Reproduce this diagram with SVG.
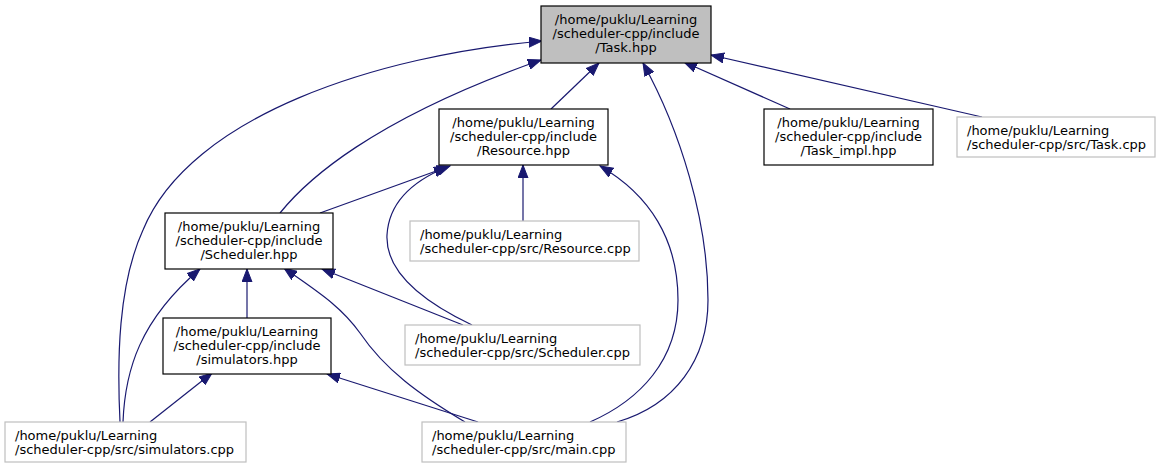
<svg xmlns="http://www.w3.org/2000/svg" width="1163" height="468" viewBox="0 0 1163 468">
<style>
  .hpp rect { fill: #ffffff; stroke: #000000; stroke-width: 1.2; }
  .main rect { fill: #bfbfbf; stroke: #000000; stroke-width: 1.2; }
  .cpp rect { fill: #ffffff; stroke: #bfbfbf; stroke-width: 1.2; }
  text { font-family: "DejaVu Sans", sans-serif; font-size: 13px; fill: #000000; }
  .c { text-anchor: middle; }
  .l { text-anchor: start; }
  #edges path { fill: none; stroke: #191970; stroke-width: 1.2; marker-end: url(#arr); }
</style>
<defs>
  <marker id="arr" markerUnits="userSpaceOnUse" markerWidth="14" markerHeight="11" refX="13" refY="5" orient="auto" viewBox="0 0 14 10">
    <path d="M0,0 L13,5 L0,10 z" fill="#191970" stroke="#191970" stroke-width="1"/>
  </marker>
</defs>
<rect width="1163" height="468" fill="#ffffff"/>

<g id="edges">
  <path d="M551,109 L599,63"/>
  <path d="M280,213 C305,182 370,120 541,60"/>
  <path d="M120,422 C117,360 118,285 143,230 C190,115 380,55 542,41"/>
  <path d="M617,422 C675,405 708,360 708,300 C708,220 680,130 643,63"/>
  <path d="M590,422 C640,400 678,360 678,300 C678,240 650,195 600,166"/>
  <path d="M790,109 L684,62"/>
  <path d="M982,117 L711,55"/>
  <path d="M320,213 L450,166"/>
  <path d="M523,221 L523,165"/>
  <path d="M472,325 C430,305 385,275 387,235 C389,200 415,180 447,167"/>
  <path d="M247,318 L247,269"/>
  <path d="M123,422 C125,370 140,320 200,269"/>
  <path d="M463,325 L322,269"/>
  <path d="M465,422 C420,395 385,370 360,333 C340,305 315,290 284,268"/>
  <path d="M150,422 L212,373"/>
  <path d="M478,422 L327,374"/>
</g>

<g id="task_hpp" class="main">
  <rect x="541" y="6" width="170" height="57"/>
  <text class="c" x="626" y="23.5">/home/puklu/Learning</text>
  <text class="c" x="626" y="37.5">/scheduler-cpp/include</text>
  <text class="c" x="626" y="51.5">/Task.hpp</text>
</g>

<g id="resource_hpp" class="hpp">
  <rect x="439" y="109" width="169" height="56"/>
  <text class="c" x="523.5" y="126.5">/home/puklu/Learning</text>
  <text class="c" x="523.5" y="140.5">/scheduler-cpp/include</text>
  <text class="c" x="523.5" y="154.5">/Resource.hpp</text>
</g>

<g id="task_impl_hpp" class="hpp">
  <rect x="764" y="109" width="169" height="56"/>
  <text class="c" x="848.5" y="126.5">/home/puklu/Learning</text>
  <text class="c" x="848.5" y="140.5">/scheduler-cpp/include</text>
  <text class="c" x="848.5" y="154.5">/Task_impl.hpp</text>
</g>

<g id="task_cpp" class="cpp">
  <rect x="957" y="117" width="198" height="40"/>
  <text class="l" x="967" y="134.5">/home/puklu/Learning</text>
  <text class="l" x="967" y="148.5">/scheduler-cpp/src/Task.cpp</text>
</g>

<g id="scheduler_hpp" class="hpp">
  <rect x="165" y="213" width="168" height="56"/>
  <text class="c" x="249" y="230.5">/home/puklu/Learning</text>
  <text class="c" x="249" y="244.5">/scheduler-cpp/include</text>
  <text class="c" x="249" y="258.5">/Scheduler.hpp</text>
</g>

<g id="resource_cpp" class="cpp">
  <rect x="410" y="221" width="229" height="40"/>
  <text class="l" x="420" y="238.5">/home/puklu/Learning</text>
  <text class="l" x="420" y="252.5">/scheduler-cpp/src/Resource.cpp</text>
</g>

<g id="simulators_hpp" class="hpp">
  <rect x="163" y="318" width="168" height="56"/>
  <text class="c" x="247" y="335.5">/home/puklu/Learning</text>
  <text class="c" x="247" y="349.5">/scheduler-cpp/include</text>
  <text class="c" x="247" y="363.5">/simulators.hpp</text>
</g>

<g id="scheduler_cpp" class="cpp">
  <rect x="405" y="325" width="235" height="40"/>
  <text class="l" x="415" y="342.5">/home/puklu/Learning</text>
  <text class="l" x="415" y="356.5">/scheduler-cpp/src/Scheduler.cpp</text>
</g>

<g id="simulators_cpp" class="cpp">
  <rect x="5" y="422" width="241" height="40"/>
  <text class="l" x="15" y="439.5">/home/puklu/Learning</text>
  <text class="l" x="15" y="453.5">/scheduler-cpp/src/simulators.cpp</text>
</g>

<g id="main_cpp" class="cpp">
  <rect x="422" y="422" width="204" height="40"/>
  <text class="l" x="432" y="439.5">/home/puklu/Learning</text>
  <text class="l" x="432" y="453.5">/scheduler-cpp/src/main.cpp</text>
</g>
</svg>
